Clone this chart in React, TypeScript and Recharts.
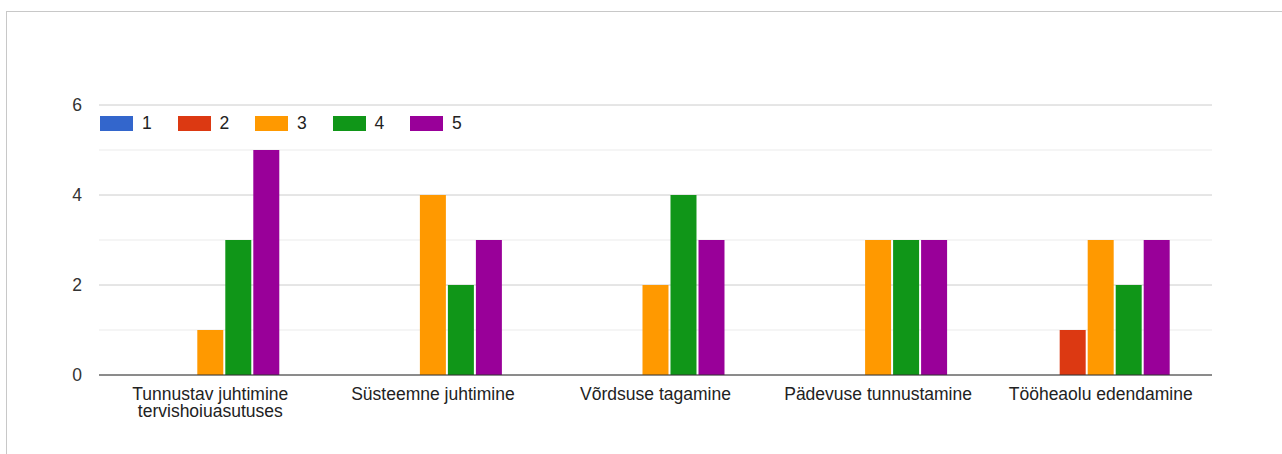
import React from 'react';
import { BarChart, Bar, XAxis, YAxis, CartesianGrid } from 'recharts';

const categories = [
  'Tunnustav juhtimine tervishoiuasutuses',
  'Süsteemne juhtimine',
  'Võrdsuse tagamine',
  'Pädevuse tunnustamine',
  'Tööheaolu edendamine',
];
const seriesNames = ['1', '2', '3', '4', '5'];
const seriesColors = ['#3366cc', '#dc3912', '#ff9900', '#109618', '#990099'];
const values1 = [0, 0, 0, 0, 0];
const values2 = [0, 0, 0, 0, 1];
const values3 = [1, 4, 2, 3, 3];
const values4 = [3, 2, 4, 3, 2];
const values5 = [5, 3, 3, 3, 3];
const majorTicks = [0, 2, 4, 6];
const minorTicks = [1, 3, 5];

const seriesValues = [values1, values2, values3, values4, values5];
const data = categories.map((c, i) => {
  const row: Record<string, any> = { name: c };
  seriesValues.forEach((vals, s) => {
    row['s' + (s + 1)] = vals[i];
  });
  return row;
});

const FONT = '"Liberation Sans", Arial, sans-serif';
const FS = 17.5;

function wrapLabel(text: string, maxChars: number): string[] {
  const words = text.split(' ');
  const lines: string[] = [];
  let cur = '';
  for (const w of words) {
    const next = cur ? cur + ' ' + w : w;
    if (next.length > maxChars && cur) {
      lines.push(cur);
      cur = w;
    } else {
      cur = next;
    }
  }
  if (cur) lines.push(cur);
  return lines;
}

const CategoryTick = (props: any) => {
  const { x, y, payload } = props;
  const lines = wrapLabel(String(payload.value), 24);
  return (
    <g transform={`translate(${x},${y})`}>
      <text textAnchor="middle" fill="#222" fontSize={FS} fontFamily={FONT}>
        {lines.map((l, i) => (
          <tspan key={i} x={0} y={25 + i * 16.5}>
            {l}
          </tspan>
        ))}
      </text>
    </g>
  );
};

const minorGenerator = (props: any) => {
  const yAxis = props && props.yAxis;
  if (!yAxis || !yAxis.scale) return [];
  const s = yAxis.scale;
  const fn = typeof s === 'function' ? s : s.map ? (v: number) => s.map(v) : null;
  if (!fn) return [];
  return minorTicks.map((v) => fn(v));
};

export default function App() {
  return (
    <div
      style={{
        position: 'absolute',
        left: 0,
        top: 0,
        width: 1282,
        height: 454,
        overflow: 'hidden',
        background: '#fff',
        fontFamily: FONT,
      }}
    >
      <div
        style={{
          position: 'absolute',
          left: 6,
          top: 11,
          width: 1400,
          height: 600,
          border: '1px solid #c8c8c8',
        }}
      />
      <div style={{ position: 'absolute', left: 0, top: 0 }}>
        <BarChart
          width={1282}
          height={454}
          data={data}
          margin={{ top: 105, right: 70, bottom: 49, left: 39 }}
          barCategoryGap="19%"
          barGap={2}
        >
          <CartesianGrid
            vertical={false}
            stroke="#ebebeb"
            horizontalCoordinatesGenerator={minorGenerator}
          />
          <CartesianGrid vertical={false} stroke="#cccccc" />
          <XAxis
            dataKey="name"
            height={30}
            interval={0}
            tickLine={false}
            tickSize={0}
            tickMargin={0}
            axisLine={{ stroke: '#333', strokeWidth: 1 }}
            tick={<CategoryTick />}
          />
          <YAxis
            width={60}
            domain={[0, 6]}
            ticks={majorTicks}
            type="number"
            axisLine={false}
            tickLine={false}
            tickSize={0}
            tickMargin={17}
            tick={{ fill: '#333', fontSize: FS, fontFamily: FONT }}
          />
          {seriesNames.map((n, i) => (
            <Bar
              key={n}
              dataKey={'s' + (i + 1)}
              name={n}
              fill={seriesColors[i]}
              isAnimationActive={false}
            />
          ))}
        </BarChart>
      </div>
      {seriesNames.map((n, i) => (
        <div
          key={n}
          style={{
            position: 'absolute',
            left: 100 + i * 77.5,
            top: 115,
            height: 16,
            display: 'flex',
            alignItems: 'center',
          }}
        >
          <div style={{ width: 33, height: 15, background: seriesColors[i] }} />
          <span
            style={{
              marginLeft: 9,
              fontSize: FS,
              color: '#222',
              lineHeight: '16px',
            }}
          >
            {n}
          </span>
        </div>
      ))}
    </div>
  );
}
